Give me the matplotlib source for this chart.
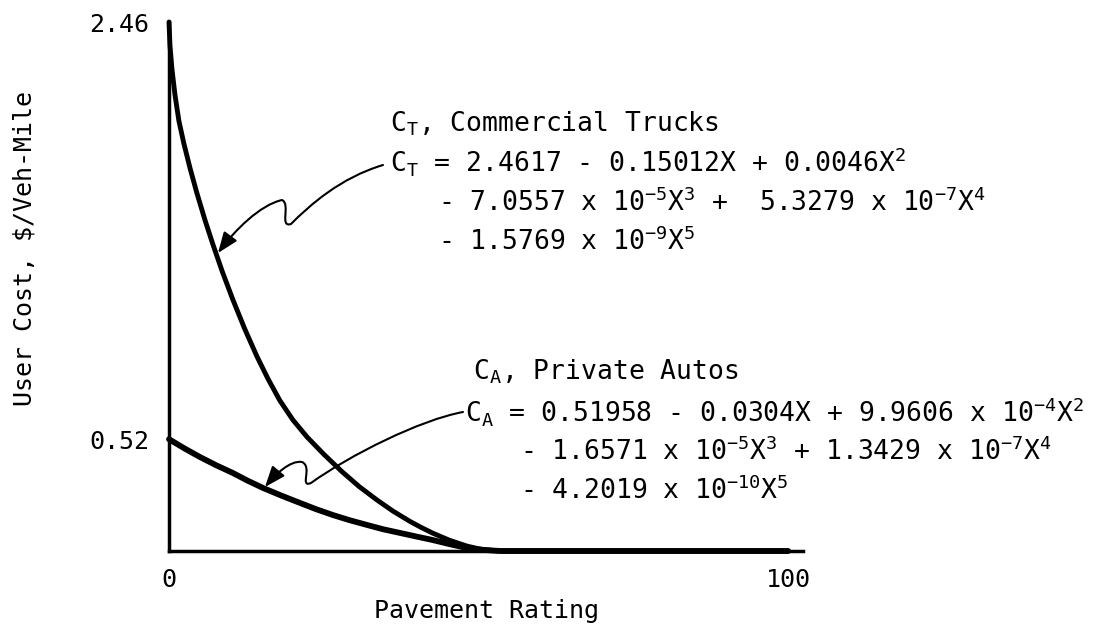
import matplotlib
matplotlib.use("Agg")
import matplotlib.pyplot as plt
from matplotlib.path import Path
from matplotlib.patches import FancyArrowPatch

# values
rating_trucks = [0, 0.16, 0.48, 0.97, 1.6, 2.4, 3.4, 4.5, 5.8, 7.1, 8.6, 10.3, 12.2,
                 14.2, 16.0, 17.9, 20.0, 22.3, 25.0, 27.9, 30.7, 33.6, 36.2, 38.9,
                 40.7, 42.6, 45.3, 48.1, 50.2, 52.3, 54.0, 100]
cost_trucks = [2.46, 2.35, 2.24, 2.12, 2.00, 1.895, 1.78, 1.665, 1.54, 1.425, 1.30,
               1.17, 1.035, 0.905, 0.80, 0.70, 0.61, 0.53, 0.45, 0.37, 0.30, 0.237,
               0.185, 0.138, 0.110, 0.083, 0.050, 0.023, 0.009, 0.002, 0.0, 0.0]

rating_autos = [0, 2.5, 5.0, 7.6, 10.3, 12.7, 15.2, 18.2, 21.2, 23.8, 26.5, 29.2,
                32.0, 34.6, 37.3, 40.0, 42.6, 45.3, 48.1, 50.8, 53.5, 100]
cost_autos = [0.52, 0.477, 0.437, 0.399, 0.363, 0.327, 0.293, 0.257, 0.223, 0.194,
              0.167, 0.143, 0.121, 0.101, 0.084, 0.067, 0.051, 0.032, 0.014, 0.005,
              0.0, 0.0]

y_ticks = [0.52, 2.46]
y_ticklabels = ["0.52", "2.46"]
x_ticks = [0, 100]
x_ticklabels = ["0", "100"]

trucks_text = [
    r"C$_T$, Commercial Trucks",
    r"C$_T$ = 2.4617 - 0.15012X + 0.0046X$^2$",
    r"- 7.0557 x 10$^{-5}$X$^3$ +  5.3279 x 10$^{-7}$X$^4$",
    r"- 1.5769 x 10$^{-9}$X$^5$",
]
autos_text = [
    r"C$_A$, Private Autos",
    r"C$_A$ = 0.51958 - 0.0304X + 9.9606 x 10$^{-4}$X$^2$",
    r"- 1.6571 x 10$^{-5}$X$^3$ + 1.3429 x 10$^{-7}$X$^4$",
    r"- 4.2019 x 10$^{-10}$X$^5$",
]

plt.rcParams["font.family"] = "DejaVu Sans Mono"
plt.rcParams["mathtext.fontset"] = "custom"
plt.rcParams["mathtext.rm"] = "DejaVu Sans Mono"
plt.rcParams["mathtext.it"] = "DejaVu Sans Mono"
plt.rcParams["mathtext.default"] = "regular"

W, H = 1108, 631
fig = plt.figure(figsize=(W / 100, H / 100), dpi=100)
ax = fig.add_axes([169 / W, 1 - 551 / H, 634 / W, 529 / H])


def px(x, y):
    # pixel position (top-left origin) -> figure fraction
    return (x / W, 1 - y / H)


ax.plot(rating_trucks, cost_trucks, color="black", lw=3.5, clip_on=False,
        solid_capstyle="round", solid_joinstyle="round")
ax.plot(rating_autos, cost_autos, color="black", lw=4.2, clip_on=False,
        solid_capstyle="round", solid_joinstyle="round")

ax.set_xlim(0, 102.4)
ax.set_ylim(0, 2.46)
for s in ["top", "right"]:
    ax.spines[s].set_visible(False)
for s in ["left", "bottom"]:
    ax.spines[s].set_linewidth(2.5)

ax.set_xticks(x_ticks)
ax.set_xticklabels(x_ticklabels)
ax.set_yticks(y_ticks)
ax.set_yticklabels(y_ticklabels)
ax.tick_params(length=0, labelsize=18)
ax.tick_params(axis="y", pad=14)
ax.tick_params(axis="x", pad=12)

ax.set_xlabel("Pavement Rating", fontsize=18, va="center")
ax.xaxis.set_label_coords(0.5, -60 / 529)
ax.set_ylabel("User Cost, $/Veh-Mile", fontsize=18, va="center")
ax.yaxis.set_label_coords(-144 / 634, (551 - 248) / 529)

# equation blocks (baselines)
for s, xx, yy in zip(trucks_text, [390, 390, 438, 438], [131, 172, 211, 250]):
    fig.text(*px(xx, yy), s, fontsize=19, ha="left", va="baseline")
for s, xx, yy in zip(autos_text, [473, 465, 520, 520], [380, 421, 460, 499]):
    fig.text(*px(xx, yy), s, fontsize=19, ha="left", va="baseline")

# squiggly pointer arrows
C4 = Path.CURVE4
trucks_arrow = [(383, 165), (340, 178), (310, 205), (291, 224),
                (279, 228), (291, 204), (282, 200),
                (260, 205), (235, 230), (218, 253)]
autos_arrow = [(463, 412), (420, 420), (350, 455), (311, 483),
               (299, 488), (313, 467), (302, 462),
               (290, 460), (275, 475), (265, 487)]
codes = [Path.MOVETO] + [C4] * 9
for pts in [trucks_arrow, autos_arrow]:
    path = Path([px(*p) for p in pts], codes)
    arr = FancyArrowPatch(path=path, arrowstyle="-|>,head_length=0.9,head_width=0.35",
                          mutation_scale=14, lw=1.5, color="black",
                          transform=fig.transFigure)
    fig.add_artist(arr)

fig.savefig("out.png", dpi=100, facecolor="white")
